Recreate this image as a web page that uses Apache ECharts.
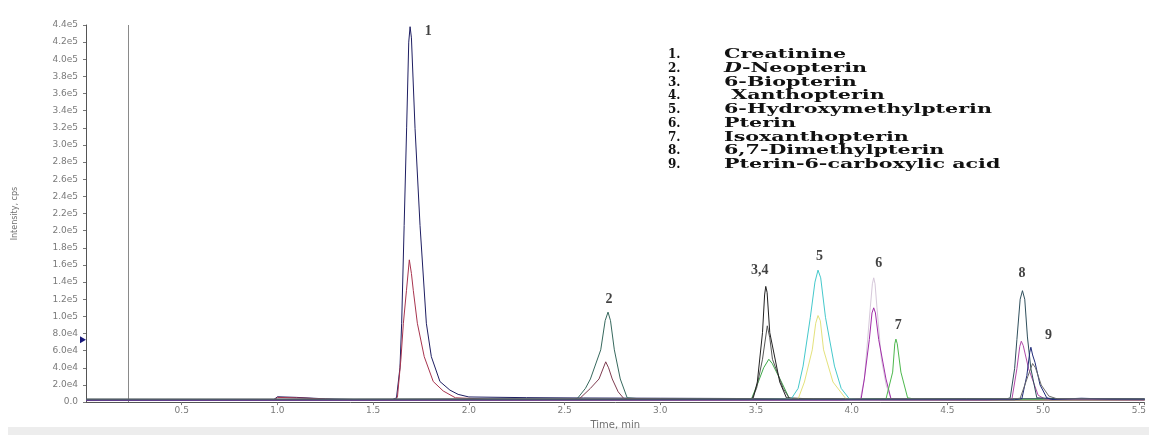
<!DOCTYPE html>
<html>
<head>
<meta charset="utf-8">
<script src="https://cdn.jsdelivr.net/npm/echarts@6/dist/echarts.min.js"></script>
<style>
html,body{margin:0;padding:0;background:#fff;}
#c{width:1149px;height:435px;}
</style>
</head>
<body>
<div id="c"></div>
<script>
// ---- Data (time in min, intensity in cps) ----
const yTickLabels = ['0.0','2.0e4','4.0e4','6.0e4','8.0e4','1.0e5','1.2e5','1.4e5','1.6e5','1.8e5','2.0e5','2.2e5','2.4e5','2.6e5','2.8e5','3.0e5','3.2e5','3.4e5','3.6e5','3.8e5','4.0e5','4.2e5','4.4e5'];
const xTickLabels = ['0.0','0.5','1.0','1.5','2.0','2.5','3.0','3.5','4.0','4.5','5.0','5.5'];

const compoundNumbers = ['1.','2.','3.','4.','5.','6.','7.','8.','9.'];
const compoundNames = ['Creatinine','{i|D}-Neopterin','6-Biopterin',' Xanthopterin','6-Hydroxymethylpterin','Pterin','Isoxanthopterin','6,7-Dimethylpterin','Pterin-6-carboxylic acid'];

const peakLabels = [
  ['1', 1.788, 432000], ['2', 2.732, 120000], ['3,4', 3.52, 154000], ['5', 3.832, 170000],
  ['6', 4.141, 162000], ['7', 4.243, 89600], ['8', 4.889, 150000], ['9', 5.028, 78000]
];
const markerTime = 0.2235;
const markerLevel = 72700;

const creatinineHigh = [[0,2600],[0.2,3000],[0.5,2700],[0.8,2900],[0.98,2700],[1.0,6200],[1.1,5500],[1.25,3800],[1.4,3000],[1.6,2800],[1.622,5000],[1.64,40000],[1.649,92000],[1.662,206000],[1.675,320000],[1.686,420000],[1.693,438000],[1.70,425000],[1.719,319000],[1.745,206000],[1.778,92000],[1.804,53000],[1.849,24000],[1.901,14000],[1.944,9000],[2.0,6000],[2.3,5200],[2.6,4800],[3.0,4500],[3.4,4200],[3.8,4000],[4.2,4200],[4.6,3800],[5.0,4000],[5.53,3600]];
const creatinineLow = [[0,1800],[0.5,2000],[0.98,1900],[1.0,5500],[1.15,4600],[1.3,3000],[1.5,2200],[1.615,2500],[1.627,6000],[1.645,50000],[1.658,92000],[1.674,130000],[1.689,166000],[1.70,150000],[1.71,130000],[1.731,92000],[1.767,53000],[1.814,24000],[1.866,13000],[1.93,5000],[2.1,3500],[2.6,3000],[3.2,2800],[4.0,3000],[4.8,2600],[5.53,2800]];
const neopterinHigh = [[0,3200],[1.0,3000],[1.6,3300],[2.2,3600],[2.55,3500],[2.568,4500],[2.609,16000],[2.635,27000],[2.689,61000],[2.712,95000],[2.727,105000],[2.74,95000],[2.76,61000],[2.791,27000],[2.827,5000],[2.9,3800],[3.5,3500],[4.5,3300],[5.53,3400]];
const neopterinLow = [[0,2200],[1.5,2400],[2.3,2600],[2.576,3500],[2.635,16000],[2.68,27000],[2.715,47000],[2.73,40000],[2.749,27000],[2.78,12000],[2.81,4000],[3.2,3000],[4.2,2800],[5.53,2600]];
const biopterin = [[0,3000],[1.2,2800],[2.0,3200],[3.0,3300],[3.47,3300],[3.486,5000],[3.507,23500],[3.534,81000],[3.545,125000],[3.551,135000],[3.558,128000],[3.572,81000],[3.624,23500],[3.659,5000],[3.8,3600],[4.5,3400],[5.53,3200]];
const xanthopterin = [[0,2400],[1.8,3000],[3.0,2700],[3.478,3500],[3.503,16000],[3.534,50000],[3.559,89000],[3.572,75000],[3.586,50000],[3.642,16000],[3.675,4000],[4.0,3000],[5.53,2800]];
const xanthopterinB = [[0,2000],[2.0,2600],[3.46,2800],[3.477,4000],[3.512,23500],[3.54,40000],[3.567,50000],[3.585,45000],[3.633,23500],[3.675,4000],[3.9,3000],[5.53,2500]];
const hydroxymethylHigh = [[0,2800],[2.0,3000],[3.5,3100],[3.685,4000],[3.72,16000],[3.746,42000],[3.784,99000],[3.808,140000],[3.824,154000],[3.838,145000],[3.863,99000],[3.91,42000],[3.945,16000],[3.987,4000],[4.3,3200],[5.53,3000]];
const hydroxymethylLow = [[0,2500],[3.6,2800],[3.72,3500],[3.753,23500],[3.794,61000],[3.812,92000],[3.824,101000],[3.836,95000],[3.853,61000],[3.902,23500],[3.971,3500],[4.4,2800],[5.53,2600]];
const pterinHigh = [[0,3000],[3.9,3200],[4.045,3500],[4.066,27000],[4.097,110000],[4.108,138000],[4.115,145000],[4.122,138000],[4.132,110000],[4.155,50000],[4.18,20000],[4.205,4000],[4.6,3300],[5.53,3000]];
const pterinLow = [[0,2300],[3.95,2600],[4.049,3500],[4.066,27000],[4.092,73000],[4.106,104000],[4.115,110000],[4.124,104000],[4.141,73000],[4.179,27000],[4.205,4000],[4.5,3000],[5.53,2600]];
const isoxanthopterin = [[0,2600],[4.0,3000],[4.179,3600],[4.214,35000],[4.225,68000],[4.231,73500],[4.238,68000],[4.257,35000],[4.292,5000],[4.33,3500],[5.53,3000]];
const dimethylHigh = [[0,3300],[4.0,3500],[4.6,4200],[4.81,3800],[4.828,5000],[4.851,39000],[4.863,73000],[4.88,120000],[4.892,130000],[4.904,120000],[4.918,76000],[4.936,39000],[4.967,5000],[5.1,3800],[5.53,3500]];
const dimethylLow = [[0,2000],[4.7,2500],[4.837,3500],[4.863,39000],[4.878,65000],[4.886,71000],[4.896,66000],[4.924,39000],[4.974,8000],[5.01,3500],[5.3,3000],[5.53,2800]];
const carboxylic = [[0,2400],[4.85,2800],[4.889,4000],[4.915,31000],[4.93,58000],[4.936,64000],[4.945,55000],[4.958,46000],[4.984,20000],[5.019,5000],[5.045,3000],[5.2,4500],[5.35,3500],[5.53,3200]];
const carboxylicB = [[0,3500],[4.85,3800],[4.88,4500],[4.92,30000],[4.945,45000],[4.96,40000],[4.99,20000],[5.03,7000],[5.07,4000],[5.53,3600]];

// ---- Chart ----
const traces = [
  {data: creatinineHigh, color: '#1e1e62'},
  {data: creatinineLow, color: '#a8344e'},
  {data: neopterinHigh, color: '#37695e'},
  {data: neopterinLow, color: '#7e3c50'},
  {data: xanthopterinB, color: '#3fa84a'},
  {data: xanthopterin, color: '#555555'},
  {data: biopterin, color: '#222222'},
  {data: hydroxymethylLow, color: '#e4e27c'},
  {data: hydroxymethylHigh, color: '#45c9cc'},
  {data: pterinHigh, color: '#d6c8da'},
  {data: pterinLow, color: '#a02ca8'},
  {data: isoxanthopterin, color: '#4db84d'},
  {data: dimethylLow, color: '#b04aa8'},
  {data: dimethylHigh, color: '#2f4f5c'},
  {data: carboxylic, color: '#1f2a78'},
  {data: carboxylicB, color: '#6a6a6a'}
];

const series = traces.map((t, i) => ({
  type: 'line',
  data: t.data,
  showSymbol: false,
  smooth: false,
  lineStyle: {width: 1, color: t.color},
  itemStyle: {color: t.color},
  silent: true,
  z: 2 + i
}));

series[0].markLine = {
  silent: true,
  symbol: ['none', 'none'],
  label: {show: false},
  lineStyle: {color: '#8a8a8a', width: 1, type: 'solid'},
  data: [{xAxis: markerTime}]
};
series[0].markPoint = {
  silent: true,
  data: [{coord: [0, markerLevel], symbol: 'triangle', symbolRotate: -90, symbolSize: [7, 6], symbolOffset: [-3, 0], itemStyle: {color: '#1a1a7a'}, label: {show: false}}]
};

series.push({
  type: 'scatter',
  symbolSize: 0,
  silent: true,
  z: 30,
  data: peakLabels.map(p => ({name: p[0], value: [p[1], p[2]]})),
  label: {
    show: true, position: 'inside', formatter: '{b}',
    fontFamily: 'Liberation Serif', fontWeight: 'bold', fontSize: 14, color: '#111'
  }
});

const rowY0 = 55, rowStep = 13.75;
const graphics = [
  {type: 'rect', z: -10, silent: true, shape: {x: 8, y: 427, width: 1141, height: 8}, style: {fill: '#ededed'}}
];
compoundNumbers.forEach((n, i) => {
  graphics.push({type: 'text', x: 668, y: rowY0 + i * rowStep, silent: true,
    style: {text: n, font: 'bold 12px "DejaVu Serif"', fill: '#111', verticalAlign: 'middle', align: 'left'}});
  graphics.push({type: 'text', x: 724, y: rowY0 + i * rowStep, scaleX: 1.72, silent: true,
    style: {text: compoundNames[i], font: 'bold 12px "DejaVu Serif"', fill: '#111', verticalAlign: 'middle', align: 'left',
      rich: {i: {font: 'italic bold 12px "DejaVu Serif"', fill: '#111'}}}});
});

const chart = echarts.init(document.getElementById('c'), null, {renderer: 'canvas'});
chart.setOption({
  animation: false,
  backgroundColor: '#ffffff',
  grid: {left: 86, top: 25, width: 1064, height: 389, containLabel: false},
  xAxis: {
    type: 'value', min: 0, max: 5.53, interval: 0.5,
    name: 'Time, min', nameLocation: 'middle', nameGap: 15,
    nameTextStyle: {fontFamily: 'DejaVu Sans', fontSize: 10, color: '#707070'},
    axisLine: {show: true, lineStyle: {color: '#555', width: 1}},
    axisTick: {show: true, length: 3, lineStyle: {color: '#777'}},
    axisLabel: {
      showMinLabel: false, margin: 4, fontFamily: 'DejaVu Sans', fontSize: 9, color: '#7a7a7a',
      formatter: v => { const k = v / 0.5; return Math.abs(k - Math.round(k)) < 1e-6 ? xTickLabels[Math.round(k)] : ''; }
    },
    splitLine: {show: false}
  },
  yAxis: {
    type: 'value', min: 0, max: 440000, interval: 20000,
    name: 'Intensity, cps', nameLocation: 'middle', nameGap: 67, nameRotate: 90,
    nameTextStyle: {fontFamily: 'DejaVu Sans', fontSize: 8, color: '#707070'},
    axisLine: {show: true, lineStyle: {color: '#555', width: 1}},
    axisTick: {show: true, length: 3, lineStyle: {color: '#777'}},
    axisLabel: {
      margin: 8, fontFamily: 'DejaVu Sans', fontSize: 9, color: '#7a7a7a',
      formatter: v => yTickLabels[Math.round(v / 20000)]
    },
    splitLine: {show: false}
  },
  graphic: graphics,
  series: series
});
</script>
</body>
</html>
